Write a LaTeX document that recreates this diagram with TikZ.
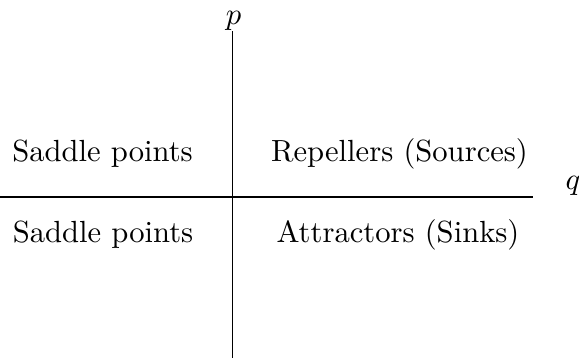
\documentclass[tikz,border=0pt]{standalone}
\begin{document}
\begin{tikzpicture}[x=0.3268pt,y=-0.3268pt,
  lbl/.style={inner sep=0pt,anchor=base}]
\useasboundingbox (0,0) rectangle (579,358);
\coordinate (vt) at (232.5,31);
\coordinate (vb) at (232.5,358);
\coordinate (hl) at (0,197);
\coordinate (hr) at (533,197);
\draw (vt) -- (vb);
\draw (hl) -- (hr);
\node[lbl] (p) at (233.5,24) {$p$};
\node[lbl] (q) at (573,189) {$q$};
\node[lbl] (s1) at (102.5,161) {Saddle points};
\node[lbl] (r) at (399.5,161) {Repellers (Sources)};
\node[lbl] (s2) at (103,242) {Saddle points};
\node[lbl] (a) at (398,242) {Attractors (Sinks)};
\end{tikzpicture}
\end{document}
